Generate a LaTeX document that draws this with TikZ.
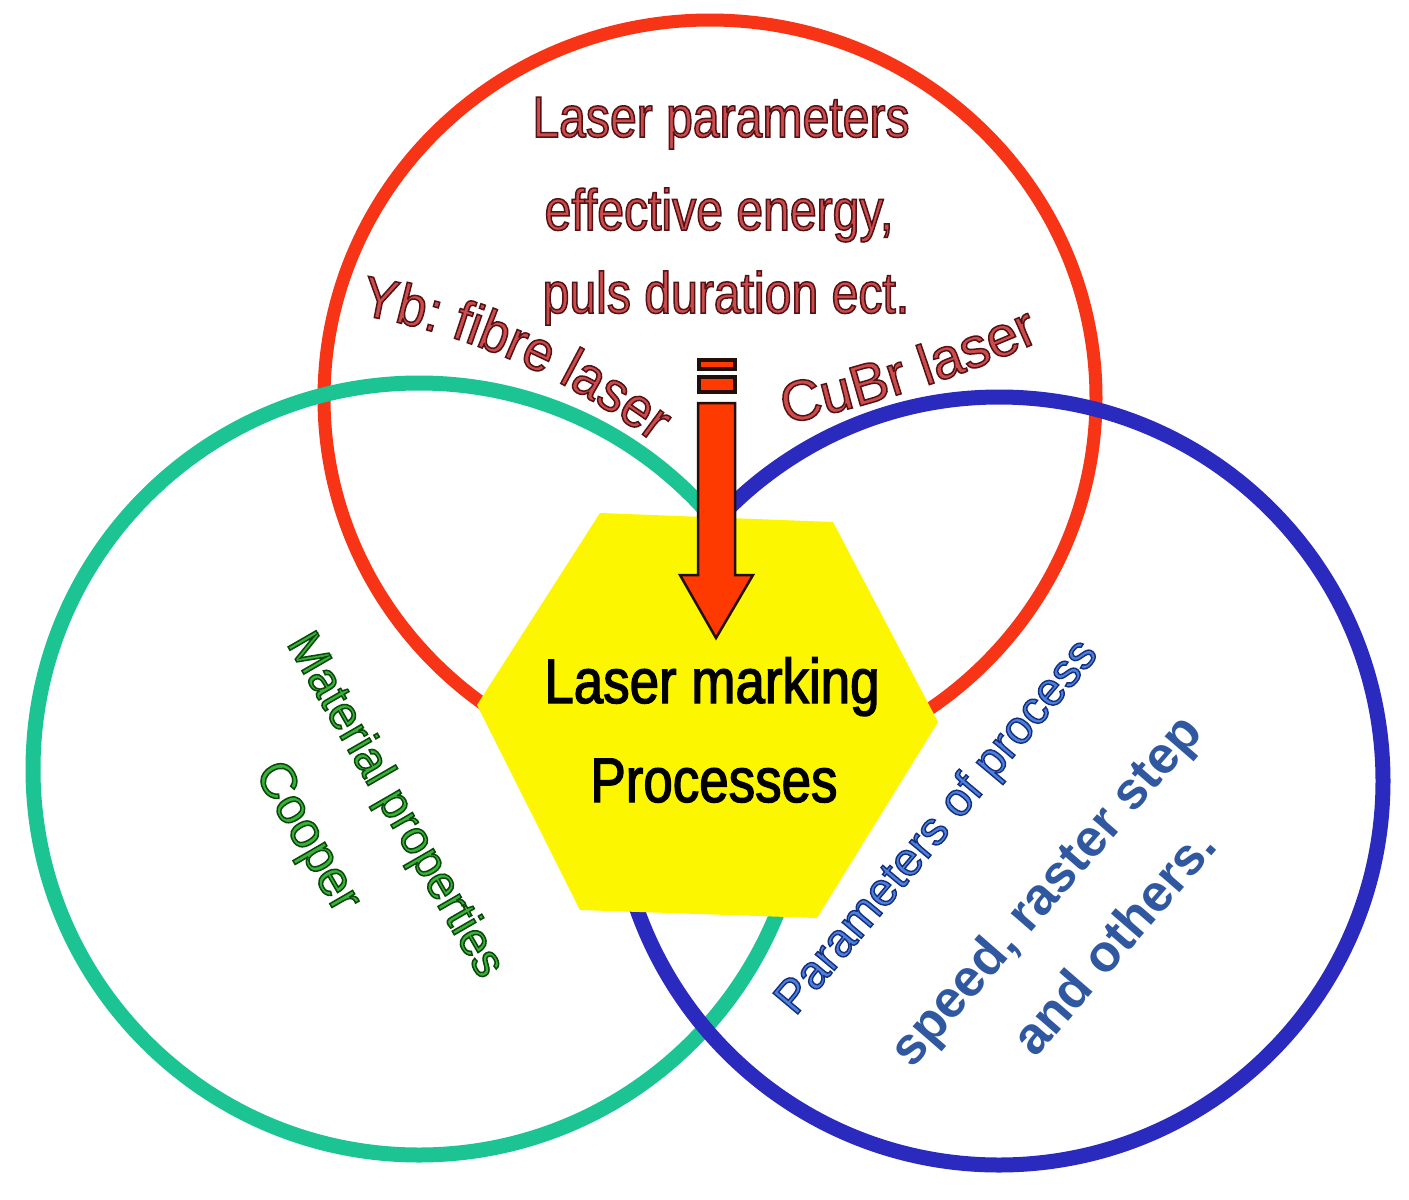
\documentclass[tikz,border=0pt]{standalone}
\usepackage{fontspec}
\setmainfont{Liberation Sans}
\newfontfamily\fTop[FakeStretch=0.83]{Liberation Sans}
\newfontfamily\fMid[FakeStretch=0.84]{Liberation Sans}
\newfontfamily\fArc[FakeStretch=0.92]{Liberation Sans}
\usetikzlibrary{decorations.text}
\definecolor{cred}{RGB}{248,52,22}
\definecolor{cgreen}{RGB}{28,196,148}
\definecolor{cblue}{RGB}{42,42,190}
\definecolor{cyellow}{RGB}{252,246,0}
\definecolor{carrow}{RGB}{255,58,0}
\definecolor{cdark}{RGB}{35,15,10}
\definecolor{csteel}{RGB}{48,88,160}
\newcommand\olon[3]{\special{pdf:literal direct #1 rg #2 RG 2 Tr #3 w}}
\newcommand\oloff{\special{pdf:literal direct 0 Tr 0 g 0 G}}
\newcommand\redtxt[1]{\olon{0.80 0.30 0.30}{0.33 0.07 0.09}{1.5}#1\oloff}
\newcommand\greentxt[1]{\olon{0.22 0.70 0.22}{0.04 0.28 0.04}{1.5}#1\oloff}
\newcommand\bluetxt[1]{\olon{0.30 0.50 0.86}{0.08 0.18 0.50}{1.4}#1\oloff}
\newcommand\blacktxt[1]{\olon{0 0 0}{0 0 0}{1.3}#1\oloff}
\begin{document}
\begin{tikzpicture}[x=1pt,y=-1pt,
  lbl/.style={inner sep=0pt, outer sep=0pt},
  toptxt/.style={lbl, anchor=base, font=\fTop\fontsize{58}{60}\selectfont},
  hextxt/.style={lbl, anchor=base, font=\fMid\fontsize{63}{66}\selectfont},
  sidetxt/.style={lbl, font=\fontsize{#1}{#1}\selectfont},
  boldtxt/.style={lbl, text=csteel, font=\bfseries\fontsize{#1}{#1}\selectfont}]
\fill[white] (0,0) rectangle (1409,1200);
\useasboundingbox (0,0) rectangle (1409,1200);
% circles
\draw[cred, line width=13] (710,398) ellipse[x radius=386, y radius=378];
\draw[cgreen, line width=15] (419,769) circle[radius=386];
\draw[cblue, line width=15] (999,781) circle[radius=384];
% hexagon
\fill[cyellow] (600,513) -- (833,522) -- (938,722) -- (817,918) -- (580,910) -- (477,705) -- cycle;
% arrow
\begin{scope}[draw=cdark, fill=carrow, line join=miter]
\filldraw[line width=2.5] (698,403) -- (735,403) -- (735,575) -- (753,575) -- (716,638) -- (680,575) -- (698,575) -- cycle;
\filldraw[line width=4] (699,377) rectangle (735,392);
\filldraw[line width=4] (699,360) rectangle (735,369);
\end{scope}
% top texts
\node[toptxt] (t1) at (721,137) {\redtxt{Laser parameters}};
\node[toptxt] (t2) at (719,230) {\redtxt{effective energy,}};
\node[toptxt] (t3) at (726,313) {\redtxt{puls duration ect.}};
% centre
\node[hextxt] (hexA) at (712,703) {\blacktxt{Laser marking}};
\node[hextxt] (hexB) at (714,802) {\blacktxt{Processes}};
% left
\node[sidetxt=47, rotate=-60] (mat) at (394,806) {\greentxt{Material properties}};
\node[sidetxt=50, rotate=-60] (coop) at (306,838) {\greentxt{Cooper}};
% right
\node[sidetxt=47, rotate=50] (par) at (938,828) {\bluetxt{Parameters of process}};
\node[boldtxt=52, rotate=49] (spd) at (1048,893) {speed, raster step};
\node[boldtxt=52, rotate=49] (oth) at (1113,941) {and others.};
% curved texts
\path[decorate, decoration={text along path, text align=center,
  text={|\fArc\fontsize{57}{60}\selectfont\olon{0.80 0.30 0.30}{0.33 0.07 0.09}{1.5}|Yb: fibre laser}}]
  (245,980) ++(-86:675) arc[start angle=-86, end angle=-47, radius=675];
\path[decorate, decoration={text along path, text align=center,
  text={|\fontsize{57}{60}\selectfont\olon{0.80 0.30 0.30}{0.33 0.07 0.09}{1.5}|CuBr laser}}]
  (532,-790) ++(81:1240) arc[start angle=81, end angle=63, radius=1240];
\end{tikzpicture}
\end{document}
